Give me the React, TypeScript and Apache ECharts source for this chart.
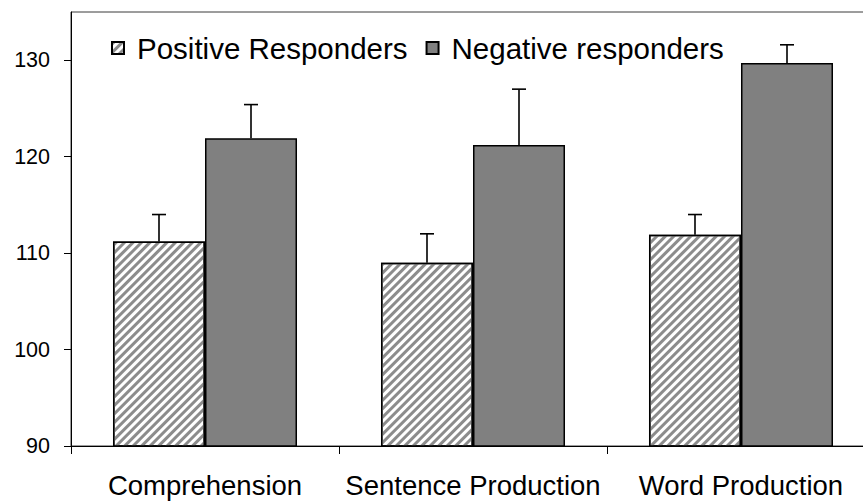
import React, { useEffect, useRef } from "react";
import * as echarts from "echarts";

const categories = ["Comprehension", "Sentence Production", "Word Production"];
const positiveName = "Positive Responders";
const negativeName = "Negative responders";
const positiveMean = [111.2, 109.0, 111.9];
const positiveErrTop = [114.0, 112.0, 114.0];
const negativeMean = [121.9, 121.2, 129.7];
const negativeErrTop = [125.4, 127.0, 131.6];
const yTicks = [90, 100, 110, 120, 130];

const BAR_FRAC = 0.3433;
const FONT = "'Liberation Sans', Arial, sans-serif";

function errorSeries(means: number[], tops: number[], sign: number) {
  return {
    type: "custom",
    z: 5,
    silent: true,
    encode: { x: 0, y: [1, 2] },
    data: means.map((m, i) => [i, m, tops[i]]),
    renderItem: (params: any, api: any) => {
      const idx = api.value(0);
      const base = api.coord([idx, api.value(1)]);
      const top = api.coord([idx, api.value(2)]);
      const bw = api.size([1, 0])[0] * BAR_FRAC;
      const x = base[0] + (sign * bw) / 2;
      const st = { stroke: "#000", lineWidth: 1.6 };
      return {
        type: "group",
        children: [
          { type: "line", shape: { x1: x, y1: base[1], x2: x, y2: top[1] }, style: st },
          { type: "line", shape: { x1: x - 7, y1: top[1], x2: x + 7, y2: top[1] }, style: st },
        ],
      };
    },
  };
}

export default function App() {
  const ref = useRef<HTMLDivElement>(null);
  useEffect(() => {
    document.body.style.margin = "0";
    const chart = echarts.init(ref.current!, null, { renderer: "svg" });
    chart.setOption({
      animation: false,
      backgroundColor: "#fff",
      textStyle: { fontFamily: FONT },
      grid: {
        left: 71,
        top: 12,
        bottom: 55,
        width: 804,
        outerBoundsMode: "none",
        containLabel: false,
        show: true,
        borderColor: "#3a3a3a",
        borderWidth: 1,
        backgroundColor: "transparent",
      },
      legend: {
        data: [positiveName, negativeName],
        left: 106,
        top: 28,
        icon: "rect",
        itemWidth: 12,
        itemHeight: 12,
        itemGap: 18,
        textStyle: { fontSize: 29.5, color: "#000", fontFamily: FONT, padding: [0, 0, 0, 8] },
      },
      xAxis: {
        type: "category",
        data: categories,
        axisLine: { lineStyle: { color: "#000", width: 1 } },
        axisTick: { show: true, length: 8, lineStyle: { color: "#000" } },
        axisLabel: {
          fontSize: 27.5,
          color: "#000",
          margin: 25,
          interval: 0,
          hideOverlap: false,
          fontFamily: FONT,
        },
      },
      yAxis: {
        type: "value",
        min: 90,
        max: 135,
        interval: 10,
        splitLine: { show: false },
        axisLine: { show: true, lineStyle: { color: "#000", width: 1 } },
        axisTick: { show: true, length: 7, lineStyle: { color: "#000" }, customValues: yTicks },
        axisLabel: { fontSize: 21.5, color: "#000", margin: 21, fontFamily: FONT, customValues: yTicks },
      },
      series: [
        {
          name: positiveName,
          type: "bar",
          data: positiveMean,
          barWidth: (BAR_FRAC * 100).toFixed(2) + "%",
          barGap: "0%",
          itemStyle: {
            color: "#ffffff",
            borderColor: "#000",
            borderWidth: 1.5,
            decal: {
              symbol: "rect",
              symbolSize: 1,
              color: "#8c8c8c",
              backgroundColor: "#ffffff",
              dashArrayX: [1, 0],
              dashArrayY: [3, 3],
              rotation: -Math.PI / 4,
            },
          },
        },
        {
          name: negativeName,
          type: "bar",
          data: negativeMean,
          barWidth: (BAR_FRAC * 100).toFixed(2) + "%",
          barGap: "0%",
          itemStyle: { color: "#808080", borderColor: "#000", borderWidth: 1.5 },
        },
        errorSeries(positiveMean, positiveErrTop, -1),
        errorSeries(negativeMean, negativeErrTop, 1),
      ],
    });
    return () => chart.dispose();
  }, []);
  return <div ref={ref} style={{ width: 863, height: 501 }} />;
}
